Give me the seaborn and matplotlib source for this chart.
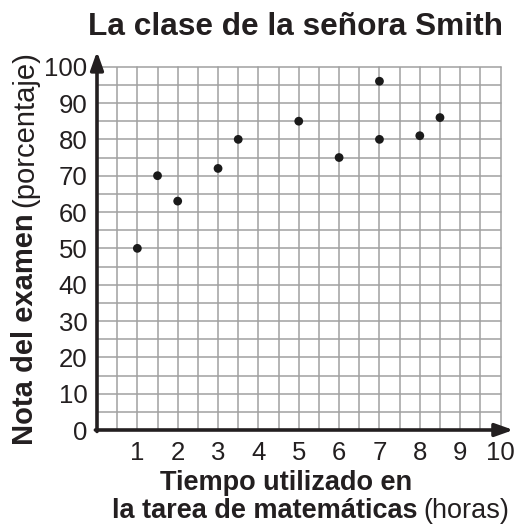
import matplotlib
matplotlib.use("Agg")
import matplotlib.pyplot as plt
from matplotlib.ticker import MultipleLocator
import seaborn as sns
import pandas as pd

hours = [1, 1.5, 2, 3, 3.5, 5, 6, 7, 7, 8, 8.5]
scores = [50, 70, 63, 72, 80, 85, 75, 96, 80, 81, 86]
x_ticks = [1, 2, 3, 4, 5, 6, 7, 8, 9, 10]
y_ticks = [0, 10, 20, 30, 40, 50, 60, 70, 80, 90, 100]
title = "La clase de la señora Smith"
xlabel_1 = "Tiempo utilizado en"
xlabel_2_bold = "la tarea de matemáticas"
xlabel_2_reg = "(horas)"
ylabel_bold = "Nota del examen"
ylabel_reg = "(porcentaje)"

sns.set_style("white")
plt.rcParams['font.family'] = ['Liberation Sans', 'DejaVu Sans']

W, H = 518, 529
fig = plt.figure(figsize=(W / 100, H / 100), dpi=100)
ax = fig.add_axes([97 / W, 1 - 430 / H, (500.5 - 97) / W, (430 - 66.7) / H])

df = pd.DataFrame({"hours": hours, "score": scores})
sns.scatterplot(data=df, x="hours", y="score", ax=ax, color="#1a1a1a",
                s=40, edgecolor="none", zorder=5, clip_on=False)

ax.set_xlim(0, 10)
ax.set_ylim(0, 100)
ax.set_xticks(x_ticks)
ax.set_yticks(y_ticks)
ax.xaxis.set_minor_locator(MultipleLocator(0.5))
ax.yaxis.set_minor_locator(MultipleLocator(5))
ax.grid(True, which="both", color="#a0a0a0", lw=1.1, zorder=0)
for gl in ax.get_xgridlines() + ax.get_ygridlines():
    gl.set_clip_on(False)
ax.tick_params(which="both", length=0)
ax.tick_params(axis="x", pad=8, labelsize=18.5, labelcolor="#231f20")
ax.tick_params(axis="y", pad=7, labelsize=18.5, labelcolor="#231f20")
ax.set_xlabel("")
ax.set_ylabel("")
for sp in ax.spines.values():
    sp.set_visible(False)

axis_col = "#231f20"
arrow = dict(arrowstyle="-|>,head_length=0.9,head_width=0.32",
             mutation_scale=12, color=axis_col, lw=2.6, shrinkA=0, shrinkB=0)
ax.annotate("", xy=(0, 1.042), xytext=(0, -0.004), xycoords="axes fraction",
            arrowprops=arrow, annotation_clip=False, zorder=6)
ax.annotate("", xy=(1.032, 0), xytext=(-0.004, 0), xycoords="axes fraction",
            arrowprops=arrow, annotation_clip=False, zorder=6)

fig.canvas.draw()
r = fig.canvas.get_renderer()


def fit_width(t, target):
    bb = t.get_window_extent(r)
    t.set_fontsize(t.get_fontsize() * target / bb.width)
    return t


fs = 20
# title: spans x 88..505, baseline y=35
tt = fig.text(88 / W, 1 - 35 / H, title, ha="left", va="baseline",
              fontsize=fs, fontweight="bold", color=axis_col)
fit_width(tt, 415)

xfs = 19.5
gap = 6
# x label line 1, centred near x=286, baseline y=490
fig.text(286 / W, 1 - 490 / H, xlabel_1, ha="center", va="baseline",
         fontsize=xfs, fontweight="bold", color=axis_col)

# x label line 2: bold + regular, centred near x=311, baseline y=518
t2a = fig.text(0, 1 - 518 / H, xlabel_2_bold, ha="left", va="baseline",
               fontsize=xfs, fontweight="bold", color=axis_col)
t2b = fig.text(0, 1 - 518 / H, xlabel_2_reg, ha="left", va="baseline",
               fontsize=xfs, color=axis_col)
wa = t2a.get_window_extent(r).width
wb = t2b.get_window_extent(r).width
x0 = 311 - (wa + gap + wb) / 2
t2a.set_x(x0 / W)
t2b.set_x((x0 + wa + gap) / W)

# y label: bold + regular rotated, spans y 445..52, baseline x=33
ya = fig.text(33 / W, 1 - 445 / H, ylabel_bold, ha="left", va="baseline",
              rotation=90, rotation_mode="anchor",
              fontsize=fs, fontweight="bold", color=axis_col)
yb = fig.text(33 / W, 0.5, ylabel_reg, ha="left", va="baseline",
              rotation=90, rotation_mode="anchor", fontsize=fs, color=axis_col)
ha_ = ya.get_window_extent(r).height
hb_ = yb.get_window_extent(r).height
scale = (445 - 52 - gap) / (ha_ + hb_)
ya.set_fontsize(fs * scale)
yb.set_fontsize(fs * scale)
bb = ya.get_window_extent(r)
yb.set_y((bb.y1 + gap) / H)

fig.savefig("out.png", dpi=100)
